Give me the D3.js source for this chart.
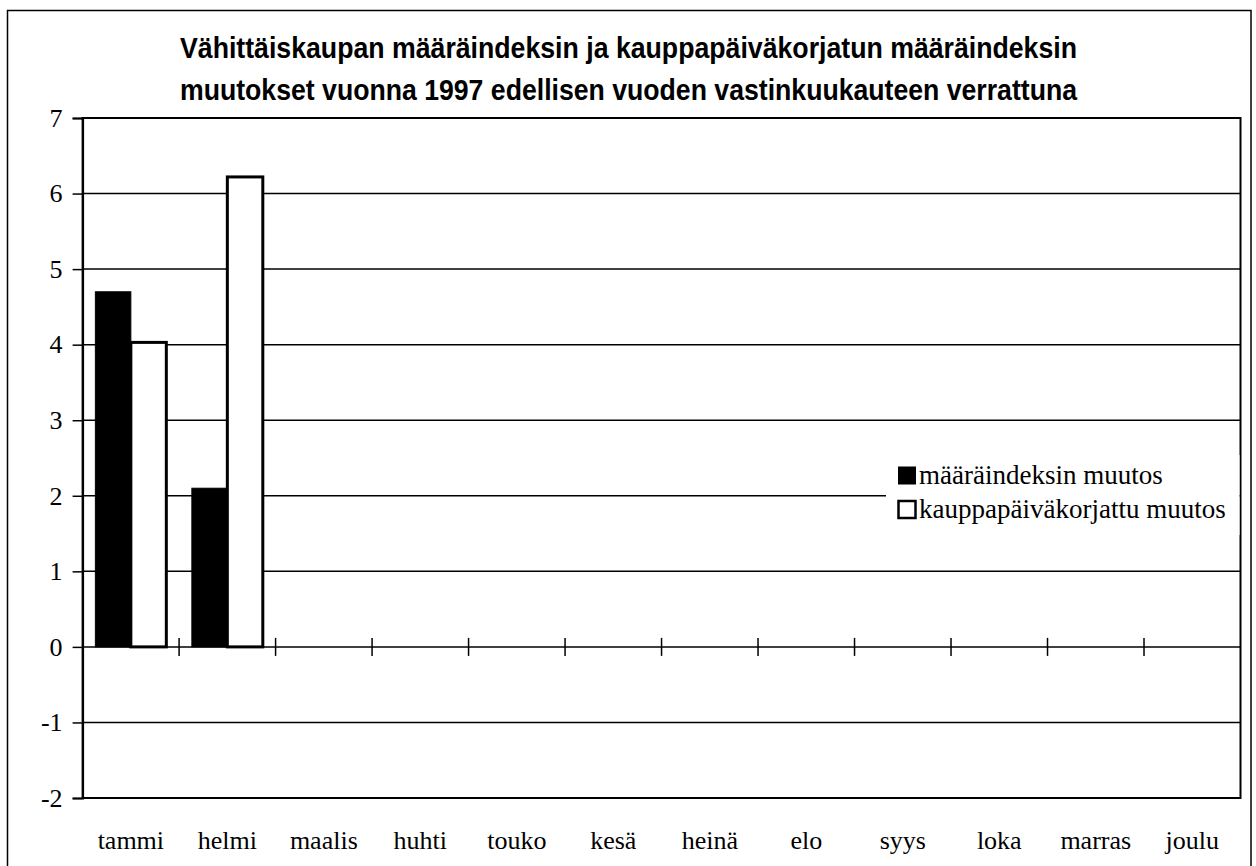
<!DOCTYPE html>
<html><head><meta charset="utf-8">
<script src="https://cdn.jsdelivr.net/npm/d3@7"></script>
<style>
html,body{margin:0;padding:0;background:#fff;}
svg{display:block;}
</style></head>
<body>
<svg id="chart" width="1256" height="866"></svg>
<script>
const titleLines = ["Vähittäiskaupan määräindeksin ja kauppapäiväkorjatun määräindeksin",
                    "muutokset vuonna 1997 edellisen vuoden vastinkuukauteen verrattuna"];
const months = ["tammi","helmi","maalis","huhti","touko","kesä","heinä","elo","syys","loka","marras","joulu"];
const seriesNames = ["määräindeksin muutos","kauppapäiväkorjattu muutos"];
const maaraindeksi = [4.70, 2.10];
const korjattu = [4.03, 6.22];
const yTicks = [-2,-1,0,1,2,3,4,5,6,7];

const svg = d3.select("#chart");
const m = {left: 82.6, right: 1240.5, top: 118, bottom: 798};
const serif = "'Liberation Serif','Times New Roman',Tinos,serif";

// outer frame
svg.append("rect").attr("x",7.5).attr("y",10.5).attr("width",1243.5).attr("height",870)
  .attr("fill","none").attr("stroke","#000").attr("stroke-width",1.5);

// title
titleLines.forEach((t,i)=>{
  svg.append("text").attr("x",628.5).attr("y",[57.5,99.5][i])
    .attr("text-anchor","middle")
    .attr("font-family","'Liberation Sans', Arial, sans-serif")
    .attr("font-weight","bold").attr("font-size",30)
    .attr("textLength",897).attr("lengthAdjust","spacingAndGlyphs")
    .text(t);
});

const y = d3.scaleLinear().domain([-2,7]).range([m.bottom, m.top]);
const x0 = d3.scaleBand().domain(months).range([m.left, m.right]).padding(0);
const x1 = d3.scaleBand().domain(seriesNames).range([0, x0.bandwidth()]).paddingInner(0).paddingOuter(0.36);

// gridlines
svg.append("g").selectAll("line").data(yTicks.filter(d=>d!==-2 && d!==7)).join("line")
  .attr("x1",m.left).attr("x2",m.right)
  .attr("y1",d=>y(d)).attr("y2",d=>y(d))
  .attr("stroke","#000").attr("stroke-width",1.5);

// plot border
svg.append("rect").attr("x",m.left).attr("y",m.top).attr("width",m.right-m.left).attr("height",m.bottom-m.top)
  .attr("fill","none").attr("stroke","#000").attr("stroke-width",2);

// y axis
const yAxis = svg.append("g").attr("transform",`translate(${m.left},0)`)
  .call(d3.axisLeft(y).tickValues(yTicks).tickSize(10).tickPadding(10).tickFormat(d=>String(d)));
yAxis.select(".domain").attr("stroke-width",2);
yAxis.selectAll(".tick line").attr("stroke-width",1.5);
yAxis.selectAll("text").attr("font-family",serif)
  .attr("font-size",26).attr("fill","#000");

// category tick marks crossing zero line
const boundaries = months.slice(1).map(mo=>x0(mo));
svg.append("g").selectAll("line").data(boundaries).join("line")
  .attr("x1",d=>d).attr("x2",d=>d)
  .attr("y1",y(0)-9).attr("y2",y(0)+9)
  .attr("stroke","#000").attr("stroke-width",1.5);

// legend background (covers gridline)
svg.append("rect").attr("x",886).attr("y",455).attr("width",m.right-886-1).attr("height",80).attr("fill","#fff");

// bars
const data = months.slice(0,2).map((mo,i)=>({month:mo, values:[maaraindeksi[i], korjattu[i]]}));
const groups = svg.append("g").selectAll("g").data(data).join("g")
  .attr("transform",d=>`translate(${x0(d.month)},0)`);
groups.selectAll("rect").data(d=>d.values.map((v,j)=>({name:seriesNames[j], v, j}))).join("rect")
  .attr("x",d=>x1(d.name)).attr("width",x1.bandwidth())
  .attr("y",d=>y(d.v)).attr("height",d=>y(0)-y(d.v))
  .attr("fill",d=>d.j===0?"#000":"#fff")
  .attr("stroke","#000").attr("stroke-width",d=>d.j===0?1:3);

// x labels
svg.append("g").selectAll("text").data(months).join("text")
  .attr("x",d=>x0(d)+x0.bandwidth()/2).attr("y",849)
  .attr("text-anchor","middle")
  .attr("font-family",serif)
  .attr("font-size",26).attr("fill","#000")
  .text(d=>d);

// legend
const lg = svg.append("g");
seriesNames.forEach((n,i)=>{
  const yy = [484,518][i];
  lg.append("rect").attr("x",898.5).attr("y",yy-17).attr("width",17).attr("height",17)
    .attr("fill",i===0?"#000":"#fff").attr("stroke","#000").attr("stroke-width",i===0?1:2.5);
  lg.append("text").attr("x",919).attr("y",yy)
    .attr("font-family",serif)
    .attr("font-size",27).attr("fill","#000").text(n);
});
</script>
</body></html>
